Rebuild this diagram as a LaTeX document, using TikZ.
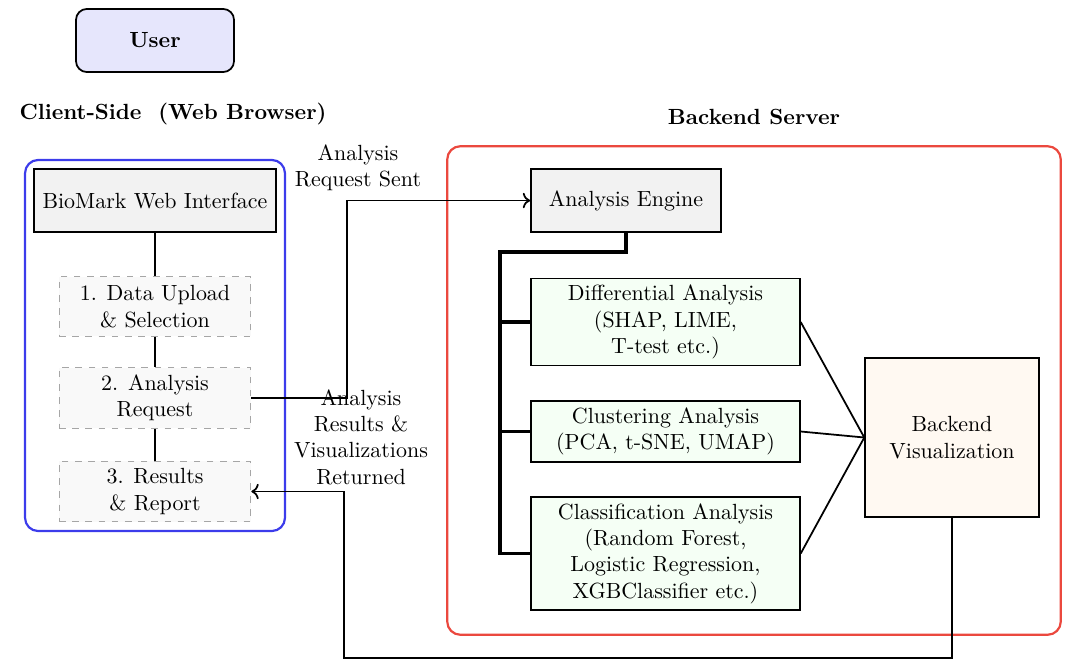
\documentclass[tikz,border=0pt]{standalone}
\usetikzlibrary{arrows.meta}

\definecolor{clientblue}{RGB}{60,60,235}
\definecolor{serverred}{RGB}{235,72,62}
\definecolor{userfill}{RGB}{230,230,252}

\begin{document}
\begin{tikzpicture}[x=0.016cm, y=-0.016cm,
    userbox/.style={rectangle, draw, thick, fill=userfill, rounded corners=5pt, minimum width=2.53cm, minimum height=1.01cm, font=\bfseries},
    title/.style={font=\bfseries, align=center},
    frame/.style={rectangle, draw, line width=1pt, rounded corners=6pt},
    webbox/.style={rectangle, draw, thick, fill=gray!10, minimum width=3.87cm, minimum height=1.01cm},
    stepbox/.style={rectangle, draw=gray!70, dashed, fill=gray!5, align=center, minimum width=3.07cm, minimum height=0.95cm},
    enginebox/.style={rectangle, draw, thick, fill=gray!10, minimum width=3.04cm, minimum height=1.01cm},
    methodbox/.style={rectangle, draw, thick, fill=green!4, align=center, minimum width=4.3cm, inner sep=3pt},
    vizbox/.style={rectangle, draw, thick, fill=orange!5, align=center, minimum width=2.78cm, minimum height=2.54cm},
    flowlabel/.style={align=center},
    link/.style={thick},
    tree/.style={line width=1.4pt},
    arrow/.style={thick,->}
]
\useasboundingbox (0,0) rectangle (1076,668);

% Frames
\node[frame, draw=clientblue, minimum width=4.16cm, minimum height=5.94cm] (client) at (155,345.5) {};
\node[frame, draw=serverred, minimum width=9.82cm, minimum height=7.82cm] (server) at (754,390.5) {};

% Titles
\node[userbox] (user) at (155,40.5) {User};
\node[title] (clienttitle) at (173,114) {Client-Side~\ (Web Browser)};
\node[title] (servertitle) at (754,117) {Backend Server};

% Client side
\node[webbox] (web) at (155,200.5) {BioMark Web Interface};
\node[stepbox] (upload) at (155,306.5) {1. Data Upload\\\& Selection};
\node[stepbox] (request) at (155,398) {2. Analysis\\Request};
\node[stepbox] (results) at (155,491.5) {3. Results\\\& Report};

% Backend server
\node[enginebox] (engine) at (626,200.5) {Analysis Engine};
\node[methodbox] (diff) at (665.5,322) {Differential Analysis\\(SHAP, LIME,\\T-test etc.)};
\node[methodbox] (clust) at (665.5,431.5) {Clustering Analysis\\(PCA, t-SNE, UMAP)};
\node[methodbox] (classif) at (665.5,553.5) {Classification Analysis\\(Random Forest,\\Logistic Regression,\\XGBClassifier etc.)};
\node[vizbox] (viz) at (952,437.5) {Backend\\Visualization};

% Flow labels
\node[flowlabel] (sentlabel) at (358,168) {Analysis\\Request Sent};
\node[flowlabel] (returnlabel) at (361,437) {Analysis\\Results \&\\Visualizations\\Returned};

% Bends
\coordinate (reqbend) at (347,200.5);
\coordinate (retlow) at (344,658);
\coordinate (treetop) at (500,252);

% Connectors
\draw[link] (web) -- (upload);
\draw[link] (upload) -- (request);
\draw[link] (request) -- (results);
\draw[arrow] (request.east) -| (reqbend) -- (engine.west);
\draw[tree] (engine.south) |- (treetop) |- (classif.west);
\draw[tree] (treetop |- diff.west) -- (diff.west);
\draw[tree] (treetop |- clust.west) -- (clust.west);
\draw[link] (diff.east) -- (viz.west);
\draw[link] (clust.east) -- (viz.west);
\draw[link] (classif.east) -- (viz.west);
\draw[arrow] (viz.south) |- (retlow) |- (results.east);

\end{tikzpicture}
\end{document}
